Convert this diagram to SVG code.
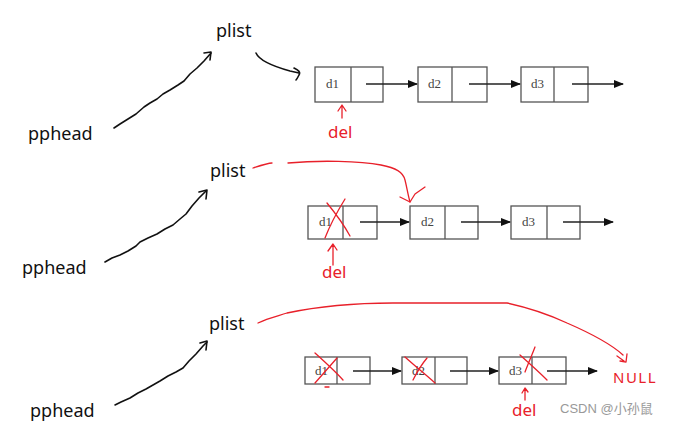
<svg xmlns="http://www.w3.org/2000/svg" width="675" height="425" viewBox="0 0 675 425">
<style>
.lbl{font-family:"Noto Sans","Open Sans",sans-serif;font-size:18px;fill:#111}
.nd{font-family:"Liberation Serif",serif;font-size:13px;fill:#444}
.box{fill:#fff;stroke:#555;stroke-width:1.3}
.div{stroke:#555;stroke-width:1.3}
.lk{stroke:#222;stroke-width:1.3;fill:none}
.ink{stroke:#111;stroke-width:1.6;fill:none;stroke-linecap:round;stroke-linejoin:round}
.red{stroke:#e8202a;stroke-width:1.3;fill:none;stroke-linecap:round;stroke-linejoin:round}
.rt{font-family:"Noto Sans","Open Sans",sans-serif;fill:#e8202a}
.wm{font-family:"Liberation Sans","Noto Sans CJK SC",sans-serif;font-size:13px;fill:#999}
</style>
<defs>
<marker id="ah" markerWidth="10" markerHeight="8" refX="9" refY="4" orient="auto" markerUnits="userSpaceOnUse">
<path d="M0,0 L10,4 L0,8 Z" fill="#111"/>
</marker>
</defs>

<g id="labels">
<text class="lbl" x="216" y="37">plist</text>
<text class="lbl" x="28" y="140">pphead</text>
<text class="lbl" x="210" y="177">plist</text>
<text class="lbl" x="22" y="274">pphead</text>
<text class="lbl" x="209" y="330">plist</text>
<text class="lbl" x="30" y="417">pphead</text>
</g>

<g id="list1">
<g id="n1a"><rect class="box" x="315" y="67" width="68" height="35"/><line class="div" x1="351" y1="67" x2="351" y2="102"/><text class="nd" x="326" y="88">d1</text></g>
<g id="n1b"><rect class="box" x="418" y="67" width="69" height="35"/><line class="div" x1="452" y1="67" x2="452" y2="102"/><text class="nd" x="428" y="88">d2</text></g>
<g id="n1c"><rect class="box" x="521" y="67" width="67" height="35"/><line class="div" x1="554" y1="67" x2="554" y2="102"/><text class="nd" x="531" y="88">d3</text></g>
</g>

<g id="list2">
<g id="n2a"><rect class="box" x="308" y="206" width="69" height="33"/><line class="div" x1="343" y1="206" x2="343" y2="239"/><text class="nd" x="319" y="226">d1</text></g>
<g id="n2b"><rect class="box" x="410" y="206" width="68" height="33"/><line class="div" x1="445" y1="206" x2="445" y2="239"/><text class="nd" x="421" y="226">d2</text></g>
<g id="n2c"><rect class="box" x="511" y="206" width="69" height="33"/><line class="div" x1="547" y1="206" x2="547" y2="239"/><text class="nd" x="522" y="226">d3</text></g>
</g>

<g id="list3">
<g id="n3a"><rect class="box" x="305" y="357" width="65" height="27"/><line class="div" x1="337" y1="357" x2="337" y2="384"/><text class="nd" x="315" y="375">d1</text></g>
<g id="n3b"><rect class="box" x="402" y="357" width="65" height="27"/><line class="div" x1="435" y1="357" x2="435" y2="384"/><text class="nd" x="412" y="375">d2</text></g>
<g id="n3c"><rect class="box" x="499" y="357" width="67" height="27"/><line class="div" x1="532" y1="357" x2="532" y2="384"/><text class="nd" x="509" y="375">d3</text></g>
</g>

<g id="connectors">
<line class="lk" x1="366" y1="84" x2="417" y2="84" marker-end="url(#ah)"/>
<line class="lk" x1="469" y1="84" x2="520" y2="84" marker-end="url(#ah)"/>
<line class="lk" x1="572" y1="84" x2="623" y2="84" marker-end="url(#ah)"/>
<line class="lk" x1="360" y1="222" x2="409" y2="222" marker-end="url(#ah)"/>
<line class="lk" x1="461" y1="222" x2="510" y2="222" marker-end="url(#ah)"/>
<line class="lk" x1="563" y1="222" x2="613" y2="222" marker-end="url(#ah)"/>
<line class="lk" x1="353" y1="371" x2="401" y2="371" marker-end="url(#ah)"/>
<line class="lk" x1="450" y1="371" x2="498" y2="371" marker-end="url(#ah)"/>
<line class="lk" x1="547" y1="371" x2="597" y2="371" marker-end="url(#ah)"/>

<path class="ink" d="M114,128 L120,124 L128,119 L136,114 L144,107 L150,103 L157,99 L163,94 L170,90 L178,85 L184,81 L190,74 L197,68 L204,61 L211,53"/>
<path class="ink" d="M204,53 L211,52 L210,60"/>
<path class="ink" d="M256,53 C259,60 272,66 290,71 L299,73"/>
<path class="ink" d="M294,68 C298,70 301,72 299,75 C298,77 297,79 296,80"/>

<path class="ink" d="M105,262 L112,258 L120,255 L128,251 L136,246 L140,242 L148,238 L157,234 L165,229 L173,225 L180,219 L186,214 L192,206 L199,198 L206,191"/>
<path class="ink" d="M199,192 L207,190 L206,199"/>

<path class="ink" d="M115,405 L121,402 L130,398 L138,393 L146,389 L153,385 L160,381 L168,376 L176,372 L183,368 L189,361 L196,354 L203,346 L207,342"/>
<path class="ink" d="M200,343 L207,341 L206,350"/>

<path class="red" d="M253,168 C262,165 268,163 272,163"/>
<path class="red" d="M288,163 C320,160 360,161 381,165 C396,168 403,172 405,180 C407,188 408,195 410,202"/>
<path class="red" d="M400,197 L410,202 L415,194 L425,187"/>

<path class="red" d="M258,323 C268,318 278,316 287,313 C320,306 360,303 393,303 L507,303 C530,308 550,315 567,323 C590,333 610,343 623,355"/>
<path class="red" d="M617,356 L624,361 M627,354 L626,362 L620,361"/>

<path class="red" d="M327,203 C336,214 344,225 350,236 M345,199 C337,212 330,225 325,238"/>
<path class="red" d="M315,353 C325,362 335,371 343,380 M337,358 C330,366 322,375 315,383 M325,387 L329,387"/>
<path class="red" d="M405,357 C415,366 426,375 435,383 M427,358 C422,364 417,372 413,380"/>
<path class="red" d="M520,355 C529,363 538,371 547,380 M535,347 C532,355 528,364 525,372"/>

<path class="red" d="M342,118 L342,106 M338,111 L342,105 L346,111"/>
<path class="red" d="M333,265 C333,258 333,251 333,245 M328,251 L333,244 L337,250"/>
<path class="red" d="M525,400 L525,389 M522,393 L525,388 L528,392"/>
</g>

<g id="redtext">
<text class="rt" x="328" y="138" font-size="17">del</text>
<text class="rt" x="322" y="278" font-size="17">del</text>
<text class="rt" x="512" y="416" font-size="17">del</text>
<text class="rt" x="613" y="383" font-size="15" letter-spacing="1.5">NULL</text>
</g>

<text class="wm" x="560" y="413">CSDN @小孙鼠</text>
</svg>
